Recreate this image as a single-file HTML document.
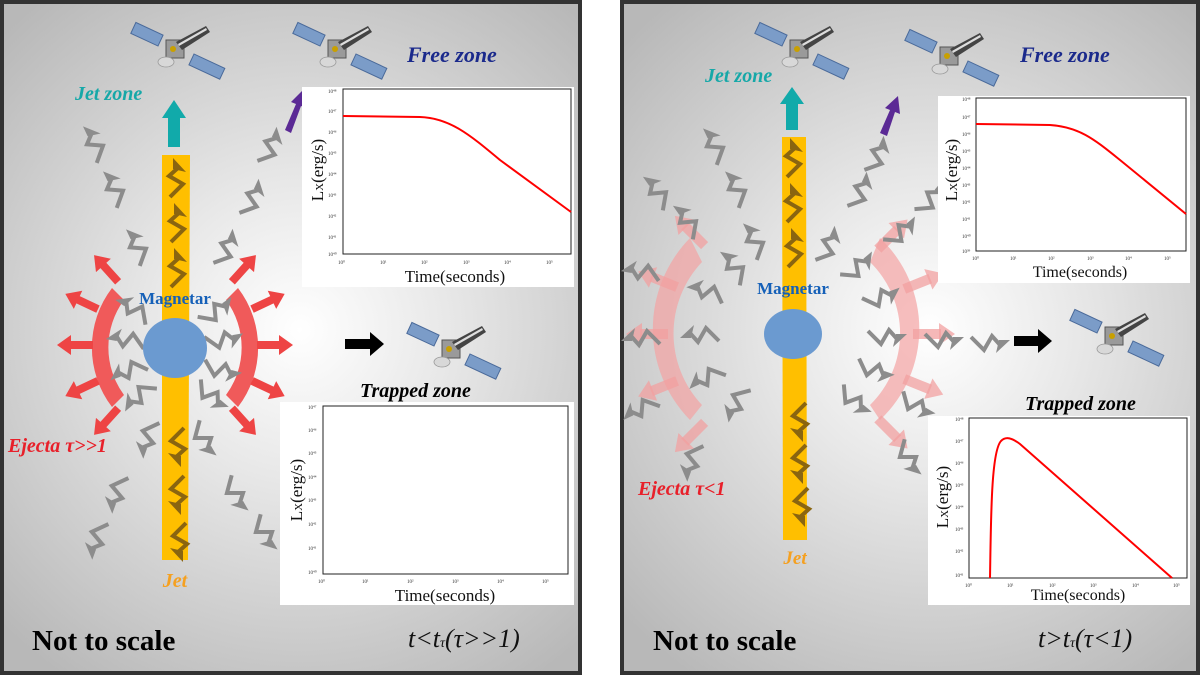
<!DOCTYPE html>
<html><head><meta charset="utf-8"><style>
html,body{margin:0;padding:0;background:#fff;}
svg{display:block}
.sf{font-family:"Liberation Serif",serif;}
</style></head><body>
<svg width="1200" height="675" viewBox="0 0 1200 675" xmlns="http://www.w3.org/2000/svg">
<defs>
<radialGradient id="bg1" cx="300" cy="330" r="420" gradientUnits="userSpaceOnUse">
<stop offset="0" stop-color="#ffffff"/><stop offset="0.35" stop-color="#e8e8e8"/><stop offset="1" stop-color="#b8b8b8"/></radialGradient>
<radialGradient id="bg2" cx="930" cy="330" r="420" gradientUnits="userSpaceOnUse">
<stop offset="0" stop-color="#ffffff"/><stop offset="0.35" stop-color="#e8e8e8"/><stop offset="1" stop-color="#b8b8b8"/></radialGradient>
<g id="lt"><path d="M-6,17 L7,4 L-7,-4 L3,-13" fill="none" stroke="#8c8c8c" stroke-width="4" stroke-linejoin="miter"/><path d="M-3,-22 L10,-8 L-3,-11 Z" fill="#8c8c8c"/></g>
<g id="ltj"><path d="M-6,17 L7,4 L-7,-4 L3,-13" fill="none" stroke="#8a6510" stroke-width="4"/><path d="M-3,-22 L10,-8 L-3,-11 Z" fill="#8a6510"/></g>
<g id="ra"><rect x="0" y="-4" width="24" height="8" fill="#ee4444"/><path d="M22,-10 L36,0 L22,10 Z" fill="#ee4444"/></g>
<g id="pa"><rect x="0" y="-5" width="28" height="10" fill="#f2a0a0" opacity="0.75"/><path d="M26,-11 L42,0 L26,11 Z" fill="#f2a0a0" opacity="0.75"/></g>
<g id="sat">
<g transform="rotate(25)">
<rect x="-48" y="-8" width="30" height="12" fill="#7b9cc8" stroke="#4a6a9a" stroke-width="1"/>
<rect x="18" y="-4" width="34" height="12" fill="#7b9cc8" stroke="#4a6a9a" stroke-width="1"/>
</g>
<rect x="-10" y="-10" width="18" height="18" fill="#9a9a9a" stroke="#555" stroke-width="1"/>
<path d="M0,-8 L30,-24 L34,-18 L6,0 Z" fill="#444"/>
<path d="M2,-6 L30,-22 L31,-20 L3,-4 Z" fill="#ddd"/>
<ellipse cx="-10" cy="12" rx="8" ry="5" fill="#d8d8d8" stroke="#999" stroke-width="0.8"/>
<circle cx="-3" cy="-1" r="3" fill="#c9a000"/>
</g>
</defs>

<!-- LEFT PANEL -->
<rect x="2" y="2" width="578" height="671" fill="url(#bg1)" stroke="#333" stroke-width="4"/>
<use href="#sat" transform="translate(176,50)"/>
<use href="#sat" transform="translate(338,50)"/>
<text x="407" y="62" class="sf" font-size="22" font-weight="bold" font-style="italic" fill="#1b2a8c">Free zone</text>
<text x="75" y="100" class="sf" font-size="20" font-weight="bold" font-style="italic" fill="#16a8a8">Jet zone</text>
<path d="M168,147 L168,118 L162,118 L174,100 L186,118 L180,118 L180,147 Z" fill="#11aaaa"/>
<path d="M285,130 L296,104 L291,102 L305,88 L306,108 L301,106 L291,133 Z" fill="#5b2a95"/>
<!-- red arcs -->
<path d="M112,288 A98,98 0 0 0 112,407 L124,395 A80,80 0 0 1 124,300 Z" fill="#f05a5a"/>
<path d="M238,288 A98,98 0 0 1 238,407 L226,395 A80,80 0 0 0 226,300 Z" fill="#f05a5a"/>
<g transform="translate(175,345)">
<use href="#ra" transform="rotate(180) translate(82)"/>
<use href="#ra" transform="rotate(155) translate(85)"/>
<use href="#ra" transform="rotate(205) translate(85)"/>
<use href="#ra" transform="rotate(132) translate(85)"/>
<use href="#ra" transform="rotate(228) translate(85)"/>
<use href="#ra" transform="rotate(0) translate(82)"/>
<use href="#ra" transform="rotate(25) translate(85)"/>
<use href="#ra" transform="rotate(-25) translate(85)"/>
<use href="#ra" transform="rotate(48) translate(85)"/>
<use href="#ra" transform="rotate(-48) translate(85)"/>
</g>
<path d="M162,155 L190,155 L188,560 L162,560 Z" fill="#ffbf00"/>
<use href="#ltj" transform="translate(176,180)"/>
<use href="#ltj" transform="translate(177,225)"/>
<use href="#ltj" transform="translate(177,270)"/>
<use href="#ltj" transform="translate(178,445) rotate(180)"/>
<use href="#ltj" transform="translate(178,493) rotate(180)"/>
<use href="#ltj" transform="translate(180,540) rotate(180)"/>
<!-- bolts left panel -->
<use href="#lt" transform="translate(95,145) rotate(-25)"/>
<use href="#lt" transform="translate(115,190) rotate(-25)"/>
<use href="#lt" transform="translate(138,248) rotate(-25)"/>
<use href="#lt" transform="translate(270,148) rotate(25)"/>
<use href="#lt" transform="translate(252,200) rotate(25)"/>
<use href="#lt" transform="translate(226,250) rotate(25)"/>
<use href="#lt" transform="translate(135,310) rotate(-55)"/>
<use href="#lt" transform="translate(128,340) rotate(-80)"/>
<use href="#lt" transform="translate(130,370) rotate(-110)"/>
<use href="#lt" transform="translate(140,395) rotate(-130)"/>
<use href="#lt" transform="translate(215,312) rotate(55)"/>
<use href="#lt" transform="translate(222,340) rotate(80)"/>
<use href="#lt" transform="translate(220,370) rotate(105)"/>
<use href="#lt" transform="translate(210,395) rotate(130)"/>
<use href="#lt" transform="translate(148,437) rotate(-160)"/>
<use href="#lt" transform="translate(117,492) rotate(-160)"/>
<use href="#lt" transform="translate(97,538) rotate(-160)"/>
<use href="#lt" transform="translate(203,438) rotate(150)"/>
<use href="#lt" transform="translate(235,493) rotate(150)"/>
<use href="#lt" transform="translate(264,532) rotate(150)"/>
<ellipse cx="175" cy="348" rx="32" ry="30" fill="#6b9ad0"/>
<text x="175" y="304" class="sf" font-size="17" font-weight="bold" fill="#1560b8" text-anchor="middle">Magnetar</text>
<text x="8" y="452" class="sf" font-size="20" font-weight="bold" font-style="italic" fill="#e8202a">Ejecta τ&gt;&gt;1</text>
<text x="175" y="587" class="sf" font-size="20" font-weight="bold" font-style="italic" fill="#f5a020" text-anchor="middle">Jet</text>
<path d="M345,339 L370,339 L370,332 L384,344 L370,356 L370,349 L345,349 Z" fill="#000"/>
<use href="#sat" transform="translate(452,350)"/>
<text x="360" y="397" class="sf" font-size="20" font-weight="bold" font-style="italic" fill="#000">Trapped zone</text>

<!-- plot 1 left -->
<rect x="302" y="87" width="272" height="200" fill="#fff"/>
<rect x="343" y="89" width="228" height="165" fill="none" stroke="#222" stroke-width="1"/>
<path d="M343,116 L420,117 C450,118 470,135 500,160 L571,212" fill="none" stroke="#ff0000" stroke-width="2"/>
<g class="sf" font-size="5" fill="#333">
<text x="338" y="264">10⁰</text><text x="380" y="264">10¹</text><text x="421" y="264">10²</text><text x="463" y="264">10³</text><text x="504" y="264">10⁴</text><text x="546" y="264">10⁵</text>
<text x="328" y="93">10⁴⁸</text><text x="328" y="113">10⁴⁷</text><text x="328" y="134">10⁴⁶</text><text x="328" y="155">10⁴⁵</text><text x="328" y="176">10⁴⁴</text><text x="328" y="197">10⁴³</text><text x="328" y="218">10⁴²</text><text x="328" y="239">10⁴¹</text><text x="328" y="256">10⁴⁰</text>
</g>
<text x="455" y="282" class="sf" font-size="17" fill="#111" text-anchor="middle">Time(seconds)</text>
<text transform="translate(323,170) rotate(-90)" class="sf" font-size="17" fill="#111" text-anchor="middle">L<tspan font-size="11">X</tspan>(erg/s)</text>

<!-- plot 2 left -->
<rect x="280" y="402" width="294" height="203" fill="#fff"/>
<rect x="323" y="406" width="245" height="168" fill="none" stroke="#222" stroke-width="1"/>
<g class="sf" font-size="5" fill="#333">
<text x="318" y="583">10⁰</text><text x="362" y="583">10¹</text><text x="407" y="583">10²</text><text x="452" y="583">10³</text><text x="497" y="583">10⁴</text><text x="542" y="583">10⁵</text>
<text x="308" y="409">10⁴⁷</text><text x="308" y="432">10⁴⁶</text><text x="308" y="455">10⁴⁵</text><text x="308" y="479">10⁴⁴</text><text x="308" y="502">10⁴³</text><text x="308" y="526">10⁴²</text><text x="308" y="550">10⁴¹</text><text x="308" y="574">10⁴⁰</text>
</g>
<text x="445" y="601" class="sf" font-size="17" fill="#111" text-anchor="middle">Time(seconds)</text>
<text transform="translate(302,490) rotate(-90)" class="sf" font-size="17" fill="#111" text-anchor="middle">L<tspan font-size="11">X</tspan>(erg/s)</text>

<text x="32" y="650" class="sf" font-size="29" font-weight="bold" fill="#000">Not to scale</text>
<text x="408" y="647" class="sf" font-size="26" font-style="italic" fill="#111">t&lt;t<tspan font-size="14">τ</tspan>(τ&gt;&gt;1)</text>

<!-- RIGHT PANEL -->
<rect x="622" y="2" width="576" height="671" fill="url(#bg2)" stroke="#333" stroke-width="4"/>
<use href="#sat" transform="translate(800,50)"/>
<use href="#sat" transform="translate(950,57)"/>
<text x="1020" y="62" class="sf" font-size="22" font-weight="bold" font-style="italic" fill="#1b2a8c">Free zone</text>
<text x="705" y="82" class="sf" font-size="20" font-weight="bold" font-style="italic" fill="#16a8a8">Jet zone</text>
<path d="M786,130 L786,104 L780,104 L792,87 L804,104 L798,104 L798,130 Z" fill="#11aaaa"/>
<path d="M880,133 L890,110 L885,108 L898,96 L900,114 L895,112 L887,136 Z" fill="#5b2a95"/>
<!-- pink arcs -->
<g opacity="0.7">
<path d="M690,238 A130,130 0 0 0 690,420 L702,405 A104,104 0 0 1 702,262 Z" fill="#f3a3a3"/>
<path d="M880,238 A125,125 0 0 1 880,420 L870,405 A100,100 0 0 0 870,262 Z" fill="#f3a3a3"/>
</g>
<g transform="translate(793,334)">
<use href="#pa" transform="rotate(180) translate(125)"/>
<use href="#pa" transform="rotate(158) translate(125)"/>
<use href="#pa" transform="rotate(202) translate(125)"/>
<use href="#pa" transform="rotate(135) translate(125)"/>
<use href="#pa" transform="rotate(225) translate(125)"/>
<use href="#pa" transform="rotate(0) translate(120)"/>
<use href="#pa" transform="rotate(22) translate(120)"/>
<use href="#pa" transform="rotate(-22) translate(120)"/>
<use href="#pa" transform="rotate(45) translate(120)"/>
<use href="#pa" transform="rotate(-45) translate(120)"/>
</g>
<path d="M782,137 L806,137 L807,540 L783,540 Z" fill="#ffbf00"/>
<use href="#ltj" transform="translate(793,160)"/>
<use href="#ltj" transform="translate(793,205)"/>
<use href="#ltj" transform="translate(794,250)"/>
<use href="#ltj" transform="translate(800,420) rotate(180)"/>
<use href="#ltj" transform="translate(800,462) rotate(180)"/>
<use href="#ltj" transform="translate(802,505) rotate(180)"/>
<g>
<use href="#lt" transform="translate(715,147) rotate(-25)"/>
<use href="#lt" transform="translate(658,193) rotate(-35)"/>
<use href="#lt" transform="translate(688,222) rotate(-35)"/>
<use href="#lt" transform="translate(737,190) rotate(-25)"/>
<use href="#lt" transform="translate(755,242) rotate(-25)"/>
<use href="#lt" transform="translate(735,268) rotate(-35)"/>
<use href="#lt" transform="translate(643,272) rotate(-80)"/>
<use href="#lt" transform="translate(708,292) rotate(-70)"/>
<use href="#lt" transform="translate(702,335) rotate(-90)"/>
<use href="#lt" transform="translate(643,338) rotate(-90)"/>
<use href="#lt" transform="translate(708,377) rotate(-115)"/>
<use href="#lt" transform="translate(642,408) rotate(-115)"/>
<use href="#lt" transform="translate(737,402) rotate(-150)"/>
<use href="#lt" transform="translate(692,460) rotate(-160)"/>
<use href="#lt" transform="translate(877,157) rotate(25)"/>
<use href="#lt" transform="translate(860,193) rotate(25)"/>
<use href="#lt" transform="translate(930,200) rotate(40)"/>
<use href="#lt" transform="translate(828,247) rotate(25)"/>
<use href="#lt" transform="translate(900,233) rotate(50)"/>
<use href="#lt" transform="translate(857,268) rotate(50)"/>
<use href="#lt" transform="translate(880,298) rotate(70)"/>
<use href="#lt" transform="translate(885,337) rotate(90)"/>
<use href="#lt" transform="translate(942,340) rotate(90)"/>
<use href="#lt" transform="translate(988,343) rotate(90)"/>
<use href="#lt" transform="translate(873,370) rotate(110)"/>
<use href="#lt" transform="translate(853,400) rotate(130)"/>
<use href="#lt" transform="translate(908,457) rotate(150)"/>
<use href="#lt" transform="translate(915,405) rotate(120)"/>
</g>
<ellipse cx="793" cy="334" rx="29" ry="25" fill="#6b9ad0"/>
<text x="793" y="294" class="sf" font-size="17" font-weight="bold" fill="#1560b8" text-anchor="middle">Magnetar</text>
<text x="638" y="495" class="sf" font-size="20" font-weight="bold" font-style="italic" fill="#e8202a">Ejecta τ&lt;1</text>
<text x="795" y="564" class="sf" font-size="19" font-weight="bold" font-style="italic" fill="#f5a020" text-anchor="middle">Jet</text>
<path d="M1014,336 L1038,336 L1038,329 L1052,341 L1038,353 L1038,346 L1014,346 Z" fill="#000"/>
<use href="#sat" transform="translate(1115,337)"/>
<text x="1025" y="410" class="sf" font-size="20" font-weight="bold" font-style="italic" fill="#000">Trapped zone</text>

<!-- plot 1 right -->
<rect x="938" y="96" width="252" height="187" fill="#fff"/>
<rect x="976" y="98" width="210" height="153" fill="none" stroke="#222" stroke-width="1"/>
<path d="M976,124 L1050,125 C1080,127 1095,140 1120,160 L1186,214" fill="none" stroke="#ff0000" stroke-width="2"/>
<g class="sf" font-size="5" fill="#333">
<text x="972" y="260">10⁰</text><text x="1010" y="260">10¹</text><text x="1048" y="260">10²</text><text x="1087" y="260">10³</text><text x="1125" y="260">10⁴</text><text x="1164" y="260">10⁵</text>
<text x="962" y="101">10⁴⁸</text><text x="962" y="119">10⁴⁷</text><text x="962" y="136">10⁴⁶</text><text x="962" y="153">10⁴⁵</text><text x="962" y="170">10⁴⁴</text><text x="962" y="187">10⁴³</text><text x="962" y="204">10⁴²</text><text x="962" y="221">10⁴¹</text><text x="962" y="238">10⁴⁰</text><text x="962" y="253">10³⁹</text>
</g>
<text x="1080" y="277" class="sf" font-size="16" fill="#111" text-anchor="middle">Time(seconds)</text>
<text transform="translate(957,170) rotate(-90)" class="sf" font-size="17" fill="#111" text-anchor="middle">L<tspan font-size="11">X</tspan>(erg/s)</text>

<!-- plot 2 right -->
<rect x="928" y="416" width="262" height="189" fill="#fff"/>
<rect x="969" y="418" width="218" height="160" fill="none" stroke="#222" stroke-width="1"/>
<path d="M990,578 C991,520 991,452 1001,441 C1006,436 1012,438 1020,444 L1172,578" fill="none" stroke="#ff0000" stroke-width="2"/>
<g class="sf" font-size="5" fill="#333">
<text x="965" y="587">10⁰</text><text x="1007" y="587">10¹</text><text x="1049" y="587">10²</text><text x="1090" y="587">10³</text><text x="1132" y="587">10⁴</text><text x="1173" y="587">10⁵</text>
<text x="955" y="421">10⁴⁸</text><text x="955" y="443">10⁴⁷</text><text x="955" y="465">10⁴⁶</text><text x="955" y="487">10⁴⁵</text><text x="955" y="509">10⁴⁴</text><text x="955" y="531">10⁴³</text><text x="955" y="553">10⁴²</text><text x="955" y="577">10⁴¹</text>
</g>
<text x="1078" y="600" class="sf" font-size="16" fill="#111" text-anchor="middle">Time(seconds)</text>
<text transform="translate(948,497) rotate(-90)" class="sf" font-size="17" fill="#111" text-anchor="middle">L<tspan font-size="11">X</tspan>(erg/s)</text>

<text x="653" y="650" class="sf" font-size="29" font-weight="bold" fill="#000">Not to scale</text>
<text x="1038" y="647" class="sf" font-size="26" font-style="italic" fill="#111">t&gt;t<tspan font-size="14">τ</tspan>(τ&lt;1)</text>
</svg>
</body></html>
